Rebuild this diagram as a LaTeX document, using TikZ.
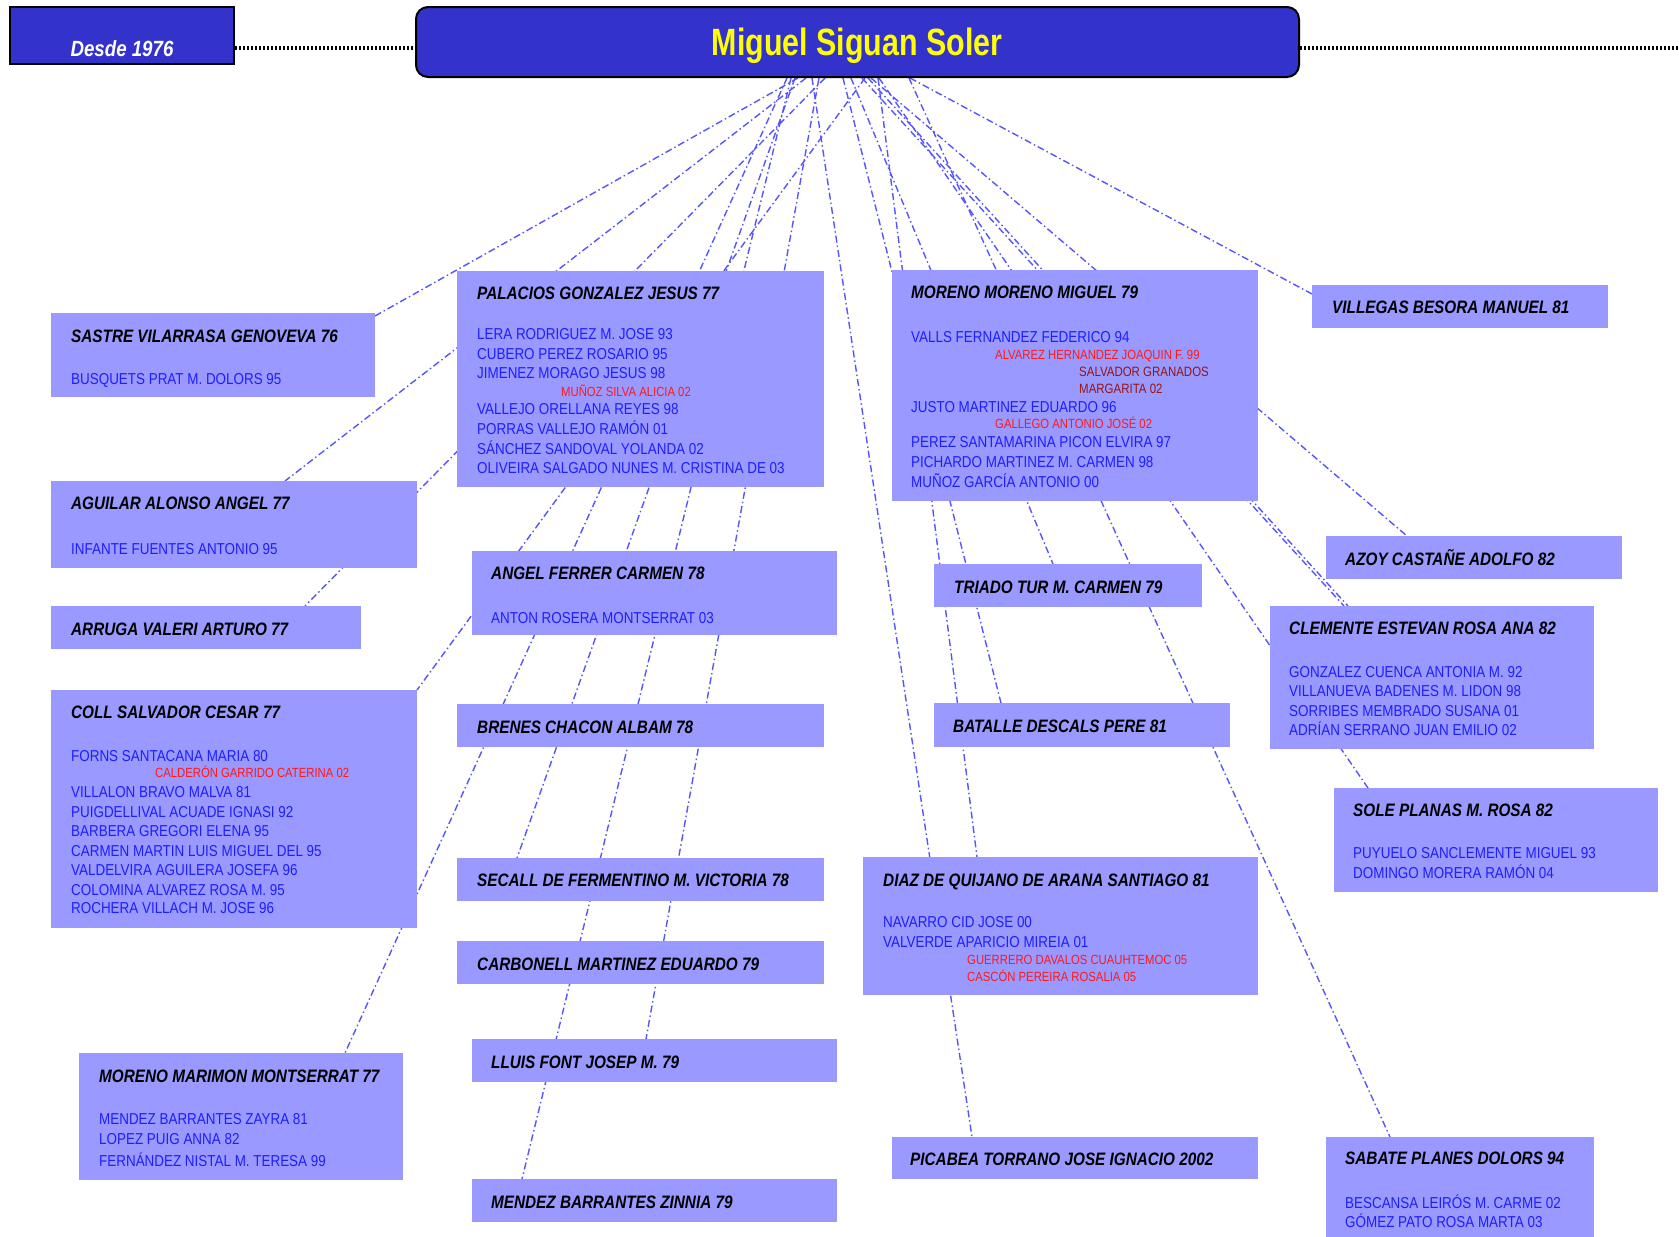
\documentclass[tikz,border=0pt]{standalone}
\usepackage{fontspec}
\setmainfont{Liberation Sans}
\newfontfamily\nrw[FakeStretch=0.85]{Liberation Sans}
\newfontfamily\nrwt[FakeStretch=0.8]{Liberation Sans}
\usetikzlibrary{calc}
\definecolor{boxfill}{RGB}{153,153,255}
\definecolor{navy}{RGB}{51,51,204}
\definecolor{connc}{RGB}{85,85,255}
\definecolor{chblue}{RGB}{30,30,255}
\definecolor{chred}{RGB}{255,25,25}
\definecolor{chdark}{RGB}{150,20,20}
\definecolor{ttlyellow}{RGB}{255,255,0}
\pgfdeclarelayer{bg}
\pgfdeclarelayer{paper}
\pgfsetlayers{paper,bg,main}
\tikzset{
  pbox/.style={rectangle, fill=boxfill, inner sep=0pt, anchor=north west},
  conn/.style={draw=connc, line width=1.4pt, dash pattern=on 7pt off 3pt on 1.5pt off 3pt},
  hdtxt/.style={anchor=base west, inner sep=0pt, text=black, font=\nrw\bfseries\itshape\fontsize{18}{20}\selectfont},
  chtxt/.style={anchor=base west, inner sep=0pt, text=chblue, font=\nrw\fontsize{15.8}{18}\selectfont},
  rdtxt/.style={anchor=base west, inner sep=0pt, text=chred, font=\nrw\fontsize{13.3}{15}\selectfont},
  drtxt/.style={anchor=base west, inner sep=0pt, text=chdark, font=\nrw\fontsize{13.5}{15}\selectfont},
  dotline/.style={draw=black, line width=4pt, dash pattern=on 2pt off 2pt}
}
\newcommand\mkbox[5]{\node[pbox, minimum width=#4pt, minimum height=#5pt] (#1) at (#2,#3) {};}
\newcommand\mkH[4]{\node[hdtxt] (#1) at (#2,#3) {#4};}
\newcommand\mkB[4]{\node[chtxt] (#1) at (#2,#3) {#4};}
\newcommand\mkR[4]{\node[rdtxt] (#1) at (#2,#3) {#4};}
\newcommand\mkD[4]{\node[drtxt] (#1) at (#2,#3) {#4};}
\newcommand\mkconn[4]{\draw[conn] ($(title.south west)+(#1,0)$) -- ($(#2.north west)+(#3,#4)$);}
\begin{document}
\begin{tikzpicture}[x=1pt,y=-1pt]
\useasboundingbox (0,0) rectangle (1679,1237);
\begin{pgfonlayer}{paper}
\fill[white] (0,0) rectangle (1679,1237);
\end{pgfonlayer}

% header
\node[rectangle, fill=navy, draw=black, line width=2pt, anchor=north west, inner sep=0pt,
      minimum width=224pt, minimum height=57pt] (desde) at (9,6) {};
\node[anchor=base, inner sep=0pt, text=white, font=\nrw\bfseries\itshape\fontsize{22}{24}\selectfont] (desde-t) at (122,56) {Desde 1976};
\node[rectangle, rounded corners=12pt, fill=navy, draw=black, line width=2pt, anchor=north west, inner sep=0pt,
      minimum width=883pt, minimum height=70pt] (title) at (415,6) {};
\node[anchor=base, inner sep=0pt, text=ttlyellow, font=\nrwt\bfseries\fontsize{38}{40}\selectfont] (title-t) at (857,55) {Miguel Siguan Soler};
\coordinate (rightend) at (1679,47.5);
\draw[dotline] (desde.east |- 0,47.5) -- (title.west |- 0,47.5);
\draw[dotline] (title.east |- 0,47.5) -- (rightend);

% boxes
\mkbox{sastre}{51}{313}{324}{84}
\mkbox{aguilar}{51}{481}{366}{87}
\mkbox{arruga}{51}{606}{310}{43}
\mkbox{coll}{51}{690}{366}{238}
\mkbox{mmar}{79}{1053}{324}{127}
\mkbox{palacios}{457}{271}{367}{216}
\mkbox{angel}{472}{551}{365}{84}
\mkbox{brenes}{457}{704}{367}{43}
\mkbox{secall}{457}{858}{367}{43}
\mkbox{carbonell}{457}{941}{367}{43}
\mkbox{lluis}{472}{1039}{365}{43}
\mkbox{mendezz}{472}{1179}{365}{43}
\mkbox{mmor}{892}{270}{366}{231}
\mkbox{triado}{934}{564}{268}{43}
\mkbox{batalle}{934}{703}{296}{44}
\mkbox{diaz}{863}{857}{395}{138}
\mkbox{picabea}{892}{1137}{366}{42}
\mkbox{villegas}{1312}{285}{296}{43}
\mkbox{azoy}{1326}{536}{296}{43}
\mkbox{clemente}{1270}{606}{324}{143}
\mkbox{sole}{1334}{788}{324}{104}
\mkbox{sabate}{1326}{1137}{268}{100}

% texts
\mkH{sastre-h}{71}{342}{SASTRE VILARRASA GENOVEVA 76}
\mkB{sastre-1}{71}{384}{BUSQUETS PRAT M. DOLORS 95}

\mkH{aguilar-h}{71}{509}{AGUILAR ALONSO ANGEL 77}
\mkB{aguilar-1}{71}{554}{INFANTE FUENTES ANTONIO 95}

\mkH{arruga-h}{71}{635}{ARRUGA VALERI ARTURO 77}

\mkH{coll-h}{71}{718}{COLL SALVADOR CESAR 77}
\mkB{coll-1}{71}{761}{FORNS SANTACANA MARIA 80}
\mkR{coll-2}{155}{777}{CALDERÓN GARRIDO CATERINA 02}
\mkB{coll-3}{71}{797}{VILLALON BRAVO MALVA 81}
\mkB{coll-4}{71}{817}{PUIGDELLIVAL ACUADE IGNASI 92}
\mkB{coll-5}{71}{836}{BARBERA GREGORI ELENA 95}
\mkB{coll-6}{71}{856}{CARMEN MARTIN LUIS MIGUEL DEL 95}
\mkB{coll-7}{71}{875}{VALDELVIRA AGUILERA JOSEFA 96}
\mkB{coll-8}{71}{895}{COLOMINA ALVAREZ ROSA M. 95}
\mkB{coll-9}{71}{913}{ROCHERA VILLACH M. JOSE 96}

\mkH{mmar-h}{99}{1082}{MORENO MARIMON MONTSERRAT 77}
\mkB{mmar-1}{99}{1124}{MENDEZ BARRANTES ZAYRA 81}
\mkB{mmar-2}{99}{1144}{LOPEZ PUIG ANNA 82}
\mkB{mmar-3}{99}{1166}{FERNÁNDEZ NISTAL M. TERESA 99}

\mkH{palacios-h}{477}{299}{PALACIOS GONZALEZ JESUS 77}
\mkB{palacios-1}{477}{339}{LERA RODRIGUEZ M. JOSE 93}
\mkB{palacios-2}{477}{359}{CUBERO PEREZ ROSARIO 95}
\mkB{palacios-3}{477}{378}{JIMENEZ MORAGO JESUS 98}
\mkR{palacios-4}{561}{396}{MUÑOZ SILVA ALICIA 02}
\mkB{palacios-5}{477}{414}{VALLEJO ORELLANA REYES 98}
\mkB{palacios-6}{477}{434}{PORRAS VALLEJO RAMÓN 01}
\mkB{palacios-7}{477}{454}{SÁNCHEZ SANDOVAL YOLANDA 02}
\mkB{palacios-8}{477}{473}{OLIVEIRA SALGADO NUNES M. CRISTINA DE 03}

\mkH{angel-h}{491}{579}{ANGEL FERRER CARMEN 78}
\mkB{angel-1}{491}{623}{ANTON ROSERA MONTSERRAT 03}
\mkH{brenes-h}{477}{733}{BRENES CHACON ALBAM 78}
\mkH{secall-h}{477}{886}{SECALL DE FERMENTINO M. VICTORIA 78}
\mkH{carbonell-h}{477}{970}{CARBONELL MARTINEZ EDUARDO 79}
\mkH{lluis-h}{491}{1068}{LLUIS FONT JOSEP M. 79}
\mkH{mendezz-h}{491}{1208}{MENDEZ BARRANTES ZINNIA 79}

\mkH{mmor-h}{911}{298}{MORENO MORENO MIGUEL 79}
\mkB{mmor-1}{911}{342}{VALLS FERNANDEZ FEDERICO 94}
\mkR{mmor-2}{995}{359}{ALVAREZ HERNANDEZ JOAQUIN F. 99}
\mkD{mmor-3}{1079}{376}{SALVADOR GRANADOS}
\mkD{mmor-4}{1079}{393}{MARGARITA 02}
\mkB{mmor-5}{911}{412}{JUSTO MARTINEZ EDUARDO 96}
\mkR{mmor-6}{995}{428}{GALLEGO ANTONIO JOSÉ 02}
\mkB{mmor-7}{911}{447}{PEREZ SANTAMARINA PICON ELVIRA 97}
\mkB{mmor-8}{911}{467}{PICHARDO MARTINEZ M. CARMEN 98}
\mkB{mmor-9}{911}{487}{MUÑOZ GARCÍA ANTONIO 00}

\mkH{triado-h}{954}{593}{TRIADO TUR M. CARMEN 79}
\mkH{batalle-h}{953}{732}{BATALLE DESCALS PERE 81}

\mkH{diaz-h}{883}{886}{DIAZ DE QUIJANO DE ARANA SANTIAGO 81}
\mkB{diaz-1}{883}{927}{NAVARRO CID JOSE 00}
\mkB{diaz-2}{883}{947}{VALVERDE APARICIO MIREIA 01}
\mkR{diaz-3}{967}{964}{GUERRERO DAVALOS CUAUHTEMOC 05}
\mkR{diaz-4}{967}{981}{CASCÓN PEREIRA ROSALIA 05}

\mkH{picabea-h}{910}{1165}{PICABEA TORRANO JOSE IGNACIO 2002}
\mkH{villegas-h}{1332}{313}{VILLEGAS BESORA MANUEL 81}
\mkH{azoy-h}{1345}{565}{AZOY CASTAÑE ADOLFO 82}

\mkH{clemente-h}{1289}{634}{CLEMENTE ESTEVAN ROSA ANA 82}
\mkB{clemente-1}{1289}{677}{GONZALEZ CUENCA ANTONIA M. 92}
\mkB{clemente-2}{1289}{696}{VILLANUEVA BADENES M. LIDON 98}
\mkB{clemente-3}{1289}{716}{SORRIBES MEMBRADO SUSANA 01}
\mkB{clemente-4}{1289}{735}{ADRÍAN SERRANO JUAN EMILIO 02}

\mkH{sole-h}{1353}{816}{SOLE PLANAS M. ROSA 82}
\mkB{sole-1}{1353}{858}{PUYUELO SANCLEMENTE MIGUEL 93}
\mkB{sole-2}{1353}{878}{DOMINGO MORERA RAMÓN 04}

\mkH{sabate-h}{1345}{1164}{SABATE PLANES DOLORS 94}
\mkB{sabate-1}{1345}{1208}{BESCANSA LEIRÓS M. CARME 02}
\mkB{sabate-2}{1345}{1227}{GÓMEZ PATO ROSA MARTA 03}

% connectors (source offset from title south-west x=415)
\begin{pgfonlayer}{bg}
\mkconn{383}{sastre}{324}{3}
\mkconn{391}{aguilar}{234}{0}
\mkconn{410}{arruga}{254}{0}
\mkconn{450}{coll}{366}{0}
\mkconn{372}{mmar}{266}{0}
\mkconn{380}{secall}{60}{0}
\mkconn{376}{mendezz}{50}{0}
\mkconn{404}{lluis}{174}{0}
\mkconn{397}{picabea}{80}{0}
\mkconn{463}{diaz}{114}{0}
\mkconn{428}{batalle}{67}{0}
\mkconn{436}{triado}{119}{0}
\mkconn{494}{sabate}{64}{0}
\mkconn{464}{sole}{34}{0}
\mkconn{447}{clemente}{74}{0}
\mkconn{453}{clemente}{78}{0}
\mkconn{456}{azoy}{81}{0}
\mkconn{495}{villegas}{0}{9}
\end{pgfonlayer}
\end{tikzpicture}
\end{document}
